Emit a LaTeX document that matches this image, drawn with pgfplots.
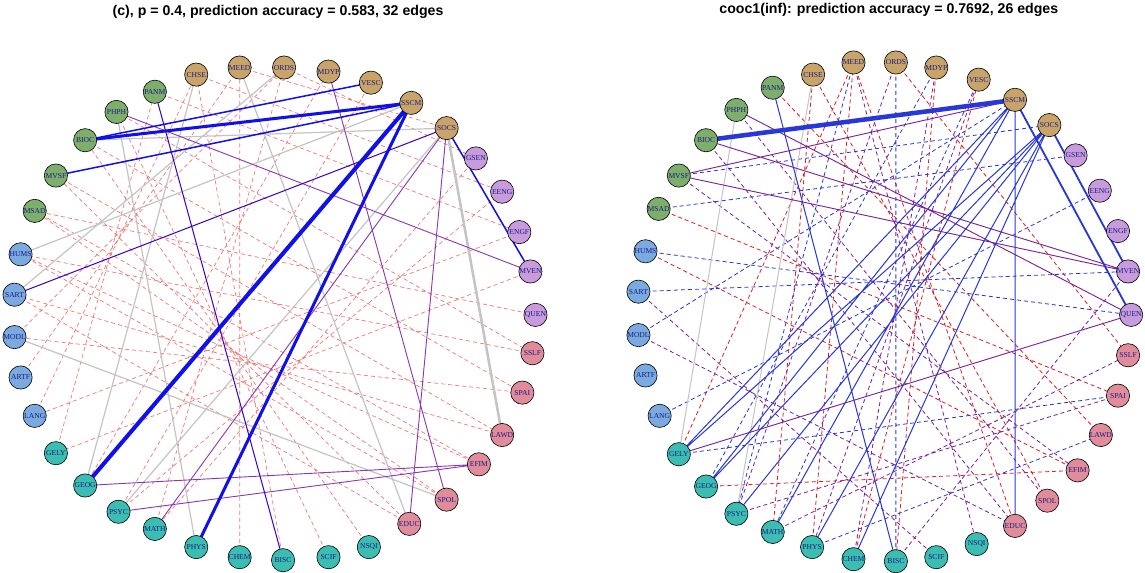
\documentclass[border=0pt]{standalone}
\usepackage{pgfplots}
\pgfplotsset{compat=1.18}
\usepackage{fontspec}
\setmainfont{Liberation Serif}
\newfontfamily\sansf{Liberation Sans}
\definecolor{cbrown}{HTML}{C8A46A}
\definecolor{cpurp}{HTML}{C89BDC}
\definecolor{cpink}{HTML}{E08C9A}
\definecolor{cteal}{HTML}{3CBDB2}
\definecolor{cblue}{HTML}{7AAAE0}
\definecolor{cgreen}{HTML}{7DAE6C}
\definecolor{ered}{HTML}{F07878}
\definecolor{eblue}{HTML}{1010E8}
\definecolor{epurp}{HTML}{8A38B0}
\definecolor{egray}{HTML}{C4C4C4}
\definecolor{rred}{HTML}{D82020}
\definecolor{rblue}{HTML}{2838D8}
\definecolor{rpurp}{HTML}{7A2098}
\definecolor{lab}{HTML}{1A1A80}
\begin{document}
\begin{tikzpicture}
\begin{axis}[scale only axis, width=1145pt, height=576pt, xmin=0, xmax=1145, ymin=0, ymax=576,
  y dir=reverse, hide axis, clip=false, unbounded coords=jump]
% ---------- left panel edges
\addplot[ered, line width=0.7pt, dash pattern=on 4pt off 3pt] coordinates {
(250,73)(455,133)(nan,nan)(294,73)(484,163)(nan,nan)(207,80)(510,196)(nan,nan)(166,97)(527,236)(nan,nan)
(128,117)(540,356)(nan,nan)(97,145)(530,395)(nan,nan)(68,180)(510,437)(nan,nan)(47,215)(487,466)(nan,nan)
(33,258)(455,501)(nan,nan)(27,298)(418,525)(nan,nan)(27,340)(294,73)(nan,nan)(33,380)(250,73)(nan,nan)
(47,418)(207,80)(nan,nan)(68,455)(166,97)(nan,nan)(97,487)(338,77)(nan,nan)(130,513)(380,88)(nan,nan)
(166,530)(294,73)(nan,nan)(250,558)(250,73)(nan,nan)(293,561)(207,80)(nan,nan)(338,558)(128,117)(nan,nan)
(378,548)(97,145)(nan,nan)(418,525)(68,180)(nan,nan)(455,501)(47,215)(nan,nan)(487,466)(33,258)(nan,nan)
(510,437)(27,298)(nan,nan)(530,395)(27,340)(nan,nan)(540,356)(33,258)(nan,nan)(543,318)(47,215)(nan,nan)
(538,275)(68,455)(nan,nan)(527,236)(47,418)(nan,nan)(510,196)(130,513)(nan,nan)(484,163)(166,530)};
\addplot[egray, line width=1.2pt] coordinates {
(27,340)(455,501)(nan,nan)(128,117)(207,548)(nan,nan)(420,108)(33,258)(nan,nan)(97,145)(455,133)(nan,nan)
(207,80)(97,487)(nan,nan)(455,133)(130,513)(nan,nan)(250,73)(418,525)(nan,nan)(294,73)(27,298)};
\addplot[egray, line width=2.5pt] coordinates {(455,133)(510,437)};
\addplot[epurp, line width=0.9pt] coordinates {
(128,117)(538,275)(nan,nan)(338,77)(455,501)(nan,nan)(130,513)(487,466)(nan,nan)(97,487)(487,466)(nan,nan)
(455,133)(418,525)(nan,nan)(166,530)(455,133)};
\addplot[blue!70!purple, line width=1pt] coordinates {(166,97)(293,561)(nan,nan)(27,298)(455,133)};
\addplot[eblue, line width=1.5pt] coordinates {(455,133)(538,275)(nan,nan)(97,145)(380,88)(nan,nan)(68,180)(420,108)};
\addplot[eblue, line width=3pt] coordinates {(97,145)(420,108)(nan,nan)(420,108)(207,548)};
\addplot[eblue, line width=4pt] coordinates {(420,108)(97,487)};
% ---------- right panel edges
\addplot[rred, line width=0.8pt, dash pattern=on 4pt off 3pt] coordinates {
(858,68)(1018,527)(nan,nan)(818,80)(1050,502)(nan,nan)(900,68)(1130,358)(nan,nan)(858,68)(685,456)(nan,nan)
(818,80)(778,533)(nan,nan)(778,93)(1103,437)(nan,nan)(665,213)(1120,398)(nan,nan)(652,255)(1080,472)(nan,nan)
(712,488)(1080,472)(nan,nan)(858,560)(982,85)(nan,nan)(817,548)(858,68)(nan,nan)(940,73)(900,562)};
\addplot[rblue, line width=0.8pt, dash pattern=on 4pt off 3pt] coordinates {
(685,180)(1052,130)(nan,nan)(665,213)(1078,160)(nan,nan)(652,255)(1133,318)(nan,nan)(645,295)(1130,275)(nan,nan)
(645,338)(1018,105)(nan,nan)(858,68)(742,515)(nan,nan)(940,73)(712,488)(nan,nan)(982,85)(778,533)(nan,nan)
(900,68)(900,562)(nan,nan)(817,548)(1103,437)(nan,nan)(685,456)(1120,398)(nan,nan)(666,418)(1102,195)};
\addplot[rpurp, line width=0.8pt, dash pattern=on 4pt off 3pt] coordinates {
(940,73)(858,560)(nan,nan)(858,68)(980,545)(nan,nan)(742,115)(1050,502)(nan,nan)(712,145)(1018,527)(nan,nan)
(685,180)(1080,472)(nan,nan)(645,295)(940,558)(nan,nan)(645,338)(1018,527)(nan,nan)(742,515)(1120,398)(nan,nan)
(778,533)(1130,358)(nan,nan)(900,68)(742,515)(nan,nan)(900,562)(1130,275)(nan,nan)(982,85)(817,548)};
\addplot[egray, line width=1pt] coordinates {(818,80)(742,515)(nan,nan)(742,115)(685,456)};
\addplot[rpurp, line width=0.9pt] coordinates {
(742,115)(1133,318)(nan,nan)(712,145)(1130,275)(nan,nan)(685,180)(1018,105)(nan,nan)(685,456)(1133,318)(nan,nan)(685,180)(1130,275)};
\addplot[rblue, line width=1pt] coordinates {
(1018,105)(685,456)(nan,nan)(1018,105)(712,488)(nan,nan)(1052,130)(712,488)(nan,nan)(1052,130)(742,515)(nan,nan)
(1052,130)(817,548)(nan,nan)(1052,130)(858,560)(nan,nan)(1018,105)(1018,527)(nan,nan)(778,93)(900,562)(nan,nan)
(1052,130)(685,456)(nan,nan)(1018,105)(778,533)};
\addplot[rblue, line width=1.8pt] coordinates {(1052,130)(1130,275)(nan,nan)(1018,105)(1133,318)};
\addplot[rblue, line width=4.5pt] coordinates {(712,145)(1018,105)};
% ---------- nodes
\pgfplotsset{nd/.style={only marks, mark=*, mark size=11.5pt, mark options={fill=#1, draw=black, line width=0.6pt},
  nodes near coords, point meta=explicit symbolic,
  every node near coord/.style={anchor=center, text=lab, font=\fontsize{7.5}{8}\selectfont}}}
\addplot[nd=cbrown] table[meta=l] {
x y l
207 80 CHSE
250 73 MEED
294 73 ORDS
338 77 MDYP
380 88 VESC
420 108 SSCM
455 133 SOCS
818 80 CHSE
858 68 MEED
900 68 ORDS
940 73 MDYP
982 85 VESC
1018 105 SSCM
1052 130 SOCS
};
\addplot[nd=cpurp] table[meta=l] {
x y l
484 163 GSEN
510 196 EENG
527 236 ENGF
538 275 MVEN
543 318 QUEN
1078 160 GSEN
1102 195 EENG
1120 235 ENGF
1130 275 MVEN
1133 318 QUEN
};
\addplot[nd=cpink] table[meta=l] {
x y l
540 356 SSLF
530 395 SPAI
510 437 LAWD
487 466 EFIM
455 501 SPOL
418 525 EDUC
1130 358 SSLF
1120 398 SPAI
1103 437 LAWD
1080 472 EFIM
1050 502 SPOL
1018 527 EDUC
};
\addplot[nd=cteal] table[meta=l] {
x y l
378 548 NSQI
338 558 SCIF
293 561 BISC
250 558 CHEM
207 548 PHYS
166 530 MATH
130 513 PSYC
97 487 GEOG
68 455 GELY
980 545 NSQI
940 558 SCIF
900 562 BISC
858 560 CHEM
817 548 PHYS
778 533 MATH
742 515 PSYC
712 488 GEOG
685 456 GELY
};
\addplot[nd=cblue] table[meta=l] {
x y l
47 418 LANG
33 380 ARTF
27 340 MODL
27 298 SART
33 258 HUMS
666 418 LANG
652 378 ARTF
645 338 MODL
645 295 SART
652 255 HUMS
};
\addplot[nd=cgreen] table[meta=l] {
x y l
47 215 MSAD
68 180 MVSF
97 145 BIOC
128 117 PHPH
166 97 PANM
665 213 MSAD
685 180 MVSF
712 145 BIOC
742 115 PHPH
778 93 PANM
};
\node[font=\sansf\bfseries\fontsize{14}{16}\selectfont] at (axis cs:288,18) {(c), p = 0.4, prediction accuracy = 0.583, 32 edges};
\node[font=\sansf\bfseries\fontsize{14}{16}\selectfont] at (axis cs:893,16) {cooc1(inf): prediction accuracy = 0.7692, 26 edges};
\end{axis}
\end{tikzpicture}
\end{document}
